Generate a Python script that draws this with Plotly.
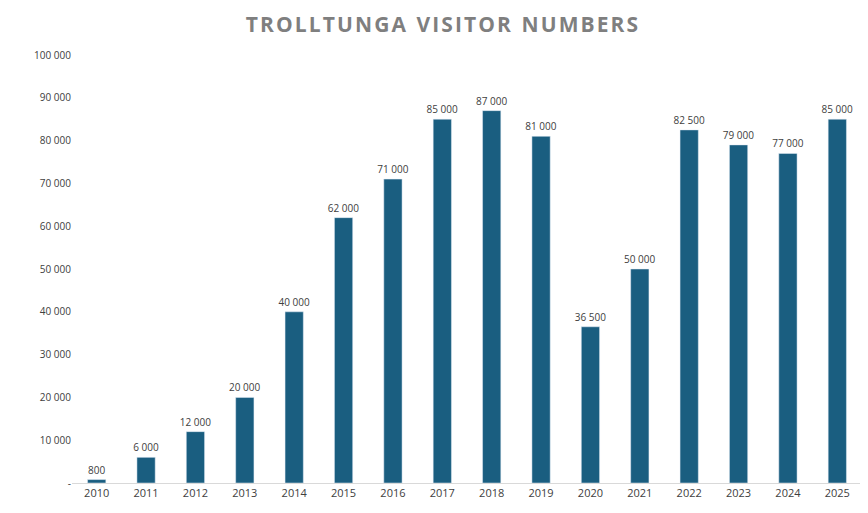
import plotly.graph_objects as go

years = [str(y) for y in range(2010, 2026)]
visitors = [800, 6000, 12000, 20000, 40000, 62000, 71000, 85000, 87000, 81000,
            36500, 50000, 82500, 79000, 77000, 85000]
labels = [f"{v:,}".replace(",", " ") for v in visitors]

tick_vals = list(range(0, 100001, 10000))
tick_text = ["-"] + [f"{v:,}".replace(",", " ") for v in tick_vals[1:]]

title = "TROLLTUNGA VISITOR NUMBERS"
spaced = "\u200a".join(title).replace("\u200a \u200a", "\u2002")

fig = go.Figure(go.Bar(
    x=years, y=visitors, text=labels, textposition="outside",
    textfont=dict(size=10, color="#404040"), constraintext="none",
    marker_color="#1a5e80", cliponaxis=False,
))

fig.update_layout(
    width=868, height=513,
    paper_bgcolor="white", plot_bgcolor="white",
    margin=dict(l=64, r=14, t=47, b=38),
    bargap=0.63,
    showlegend=False,
    uniformtext=dict(minsize=10, mode="show"),
    font=dict(family="Open Sans", size=11, color="#404040"),
    title=dict(text=f"<b>{spaced}</b>",
               x=0.5, xanchor="center", y=0.967, yanchor="middle",
               font=dict(family="Open Sans", size=21, color="#7f7f7f")),
)
fig.update_xaxes(showline=True, linecolor="#d9d9d9", ticks="", showgrid=False,
                 automargin=False, tickfont=dict(size=11, color="#404040"))
fig.update_yaxes(range=[0, 100000], tickvals=tick_vals, ticktext=tick_text,
                 showgrid=False, zeroline=False, ticks="", automargin=False,
                 tickfont=dict(size=10, color="#404040"))

fig.write_html("out.html")
